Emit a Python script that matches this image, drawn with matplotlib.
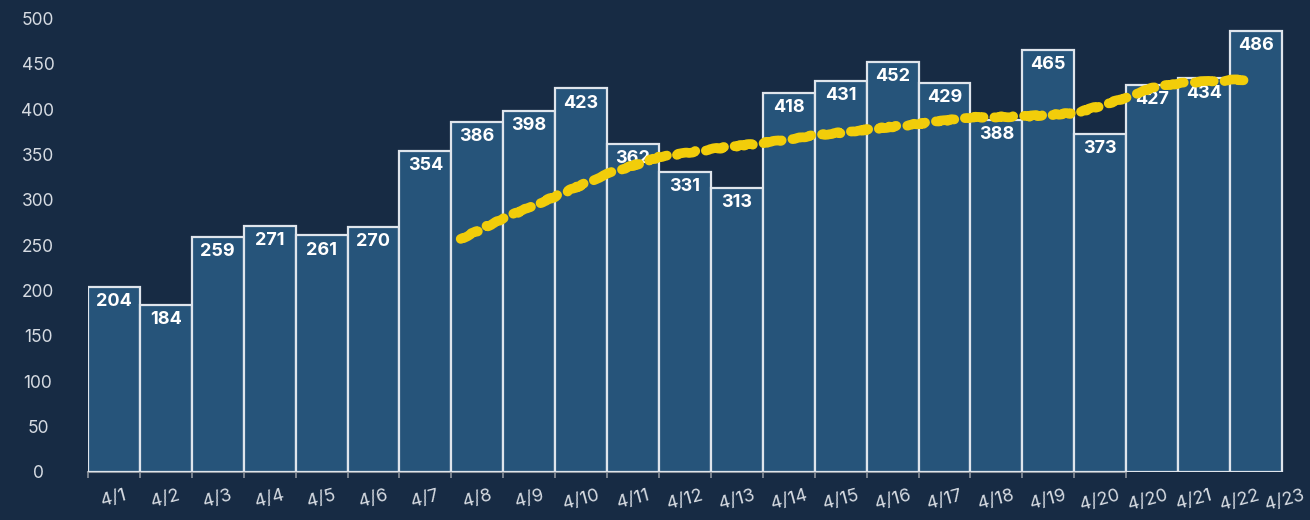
import numpy as np
import matplotlib
matplotlib.use('Agg')
import matplotlib.pyplot as plt

# daily counts (bar labels)
counts = [204, 184, 259, 271, 261, 270, 354, 386, 398, 423, 362, 331,
          313, 418, 431, 452, 429, 388, 465, 373, 427, 434, 486]

# x tick labels as printed on the chart (note the doubled 4/20)
tick_labels = ['4/1', '4/2', '4/3', '4/4', '4/5', '4/6', '4/7', '4/8',
               '4/9', '4/10', '4/11', '4/12', '4/13', '4/14', '4/15',
               '4/16', '4/17', '4/18', '4/19', '4/20', '4/20', '4/21',
               '4/22', '4/23']

# trailing average line (x in bar units)
ma_x = [6.68, 7.48, 8.51, 9.47, 10.49, 11.52, 12.51, 13.50, 14.59, 15.52,
        16.51, 17.54, 18.56, 19.52, 19.97, 20.55, 21.51, 21.93]
ma_vals = [257, 279, 304, 328, 347, 356, 363, 371, 378, 384,
           391, 392, 396, 413, 423, 429, 432, 433]

BG = '#172b44'
BAR = '#26547a'
EDGE = '#dfe5ec'
YELLOW = '#f2cd0a'
TXT = '#d6dbe2'

plt.rcParams['font.family'] = ['Inter', 'DejaVu Sans']

fig = plt.figure(figsize=(13.1, 5.2), dpi=100, facecolor=BG)
ax = fig.add_axes([88 / 1310, 48 / 520, (1285 - 88) / 1310, 453.5 / 520])
ax.set_facecolor(BG)

x = np.arange(len(counts))
ax.bar(x, counts, width=1.0, color=BAR, edgecolor=EDGE, linewidth=1.6,
       zorder=2)

for i, v in enumerate(counts):
    ax.annotate(str(v), (i, v), xytext=(0, -4.5), textcoords='offset points',
                ha='center', va='top', color='white', fontweight='bold',
                fontsize=13, zorder=3)

line, = ax.plot(ma_x, ma_vals, color=YELLOW, linewidth=7,
                dashes=(2.0, 1.15), dash_capstyle='round',
                solid_capstyle='round', zorder=4)
line.set_sketch_params(scale=0.6, length=30, randomness=15)

ax.set_xlim(-0.5, len(counts) - 0.5)
ax.set_ylim(0, 500)

# y axis
ax.set_yticks(np.arange(0, 501, 50))
ax.tick_params(axis='y', length=0, pad=36, labelsize=12.5, labelcolor=TXT)
for lab in ax.get_yticklabels():
    lab.set_horizontalalignment('center')

# x axis: labels under bars, small marks at bar boundaries
label_pos = np.r_[np.arange(20), np.linspace(19.92, 22.56, 4)]
ax.set_xticks(label_pos)
ax.set_xticklabels(tick_labels, rotation=15, ha='center')
ax.tick_params(axis='x', which='major', length=0, pad=11, labelsize=13,
               labelcolor=TXT)
ax.set_xticks(np.arange(-0.5, 20, 1.0), minor=True)
ax.tick_params(axis='x', which='minor', length=4, width=1.2,
               color='#8c939c', direction='out')

for side in ('left', 'right', 'top'):
    ax.spines[side].set_visible(False)
ax.spines['bottom'].set_color('#8c939c')
ax.spines['bottom'].set_linewidth(1.5)
ax.spines['bottom'].set_bounds(-0.5, 19.5)
ax.spines['bottom'].set_zorder(1)

fig.savefig('out.png', dpi=100, facecolor=BG)
